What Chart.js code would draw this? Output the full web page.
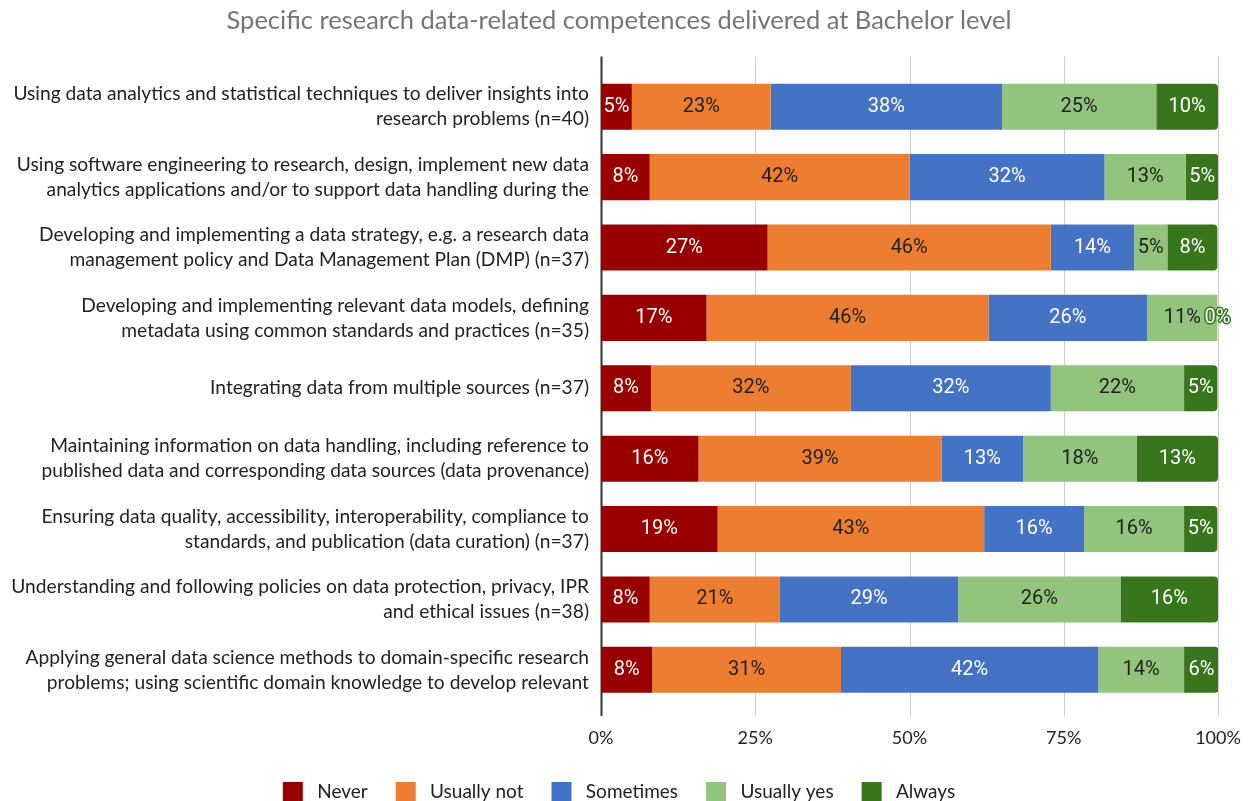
<!DOCTYPE html>
<html>
<head>
<meta charset="utf-8">
<script src="https://cdn.jsdelivr.net/npm/chart.js@4.4.1/dist/chart.umd.min.js"></script>
<style>
  html, body { margin: 0; padding: 0; background: #fff; }
  #wrap { width: 1248px; height: 801px; position: relative; }
</style>
</head>
<body>
<div id="wrap"><canvas id="competenceChart"></canvas></div>
<script>
// Data (share of respondents, %)
const categories = [
  ['Using data analytics and statistical techniques to deliver insights into', 'research problems (n=40)'],
  ['Using software engineering to research, design, implement new data', 'analytics applications and/or to support data handling during the'],
  ['Developing and implementing a data strategy, e.g. a research data', 'management policy and Data Management Plan (DMP) (n=37)'],
  ['Developing and implementing relevant data models, defining', 'metadata using common standards and practices (n=35)'],
  'Integrating data from multiple sources (n=37)',
  ['Maintaining information on data handling, including reference to', 'published data and corresponding data sources (data provenance)'],
  ['Ensuring data quality, accessibility, interoperability, compliance to', 'standards, and publication (data curation) (n=37)'],
  ['Understanding and following policies on data protection, privacy, IPR', 'and ethical issues (n=38)'],
  ['Applying general data science methods to domain-specific research', 'problems; using scientific domain knowledge to develop relevant']
];
const seriesNames = ['Never', 'Usually not', 'Sometimes', 'Usually yes', 'Always'];
const never      = [5,    7.9,  27.0, 17.1, 8.1,  15.8, 18.9, 7.9,  8.3];
const usuallyNot = [22.5, 42.1, 45.9, 45.7, 32.4, 39.4, 43.2, 21.1, 30.6];
const sometimes  = [37.5, 31.6, 13.5, 25.7, 32.4, 13.2, 16.2, 28.9, 41.7];
const usuallyYes = [25,   13.2, 5.4,  11.4, 21.6, 18.4, 16.2, 26.3, 13.9];
const always     = [10,   5.3,  8.1,  0,    5.4,  13.2, 5.4,  15.8, 5.6];
const xTicks = [0, 25, 50, 75, 100];

const colors = ['#990000', '#ed7d31', '#4472c4', '#93c47d', '#38761d'];
const labelColors = ['#ffffff', '#222222', '#ffffff', '#222222', '#ffffff'];
const values = [never, usuallyNot, sometimes, usuallyYes, always];

// vertical grid lines that run a little past the plot area, like the original
const gridPlugin = {
  id: 'gridLines',
  beforeDatasetsDraw(chart) {
    const { ctx, chartArea } = chart;
    const x = chart.scales.x;
    ctx.save();
    xTicks.forEach(t => {
      const px = Math.round(x.getPixelForValue(t)) + 0.5;
      ctx.beginPath();
      ctx.strokeStyle = t === 0 ? '#333333' : '#cccccc';
      ctx.lineWidth = t === 0 ? 2 : 1;
      ctx.moveTo(px, chartArea.top - 15);
      ctx.lineTo(px, chartArea.bottom + 11);
      ctx.stroke();
    });
    ctx.restore();
  }
};

// percentage labels inside each segment
const valueLabels = {
  id: 'valueLabels',
  afterDatasetsDraw(chart) {
    const { ctx } = chart;
    ctx.save();
    ctx.font = '20px Roboto';
    ctx.textAlign = 'center';
    ctx.textBaseline = 'middle';
    chart.data.datasets.forEach((ds, i) => {
      const meta = chart.getDatasetMeta(i);
      meta.data.forEach((bar, j) => {
        const v = ds.data[j];
        const txt = Math.round(v) + '%';
        const cx = (bar.x + bar.base) / 2;
        const w = Math.abs(bar.x - bar.base);
        if (ctx.measureText(txt).width + 4 > w) {
          ctx.strokeStyle = colors[i];
          ctx.lineWidth = 3;
          ctx.lineJoin = 'round';
          ctx.strokeText(txt, cx, bar.y);
        }
        ctx.fillStyle = labelColors[i];
        ctx.fillText(txt, cx, bar.y);
      });
    });
    ctx.restore();
  }
};

const ctx = document.getElementById('competenceChart').getContext('2d');
const competenceChart = new Chart(ctx, {
  type: 'bar',
  data: {
    labels: categories,
    datasets: seriesNames.map((name, i) => ({
      label: name,
      data: values[i],
      backgroundColor: colors[i],
      borderWidth: 0,
      borderSkipped: false,
      borderRadius: i === 4 ? { topLeft: 0, bottomLeft: 0, topRight: 4, bottomRight: 4 } : 0,
      categoryPercentage: 1,
      barPercentage: 0.655
    }))
  },
  options: {
    indexAxis: 'y',
    responsive: true,
    maintainAspectRatio: false,
    animation: false,
    layout: { padding: { left: 0, right: 10, top: 0, bottom: -10 } },
    scales: {
      x: {
        stacked: true,
        min: 0,
        max: 100,
        afterBuildTicks(scale) { scale.ticks = xTicks.map(v => ({ value: v })); },
        afterFit(scale) {
          scale.height = 49;
          scale.paddingLeft = 0;
          scale.paddingRight = 30;
        },
        grid: { display: false, drawTicks: false },
        border: { display: false },
        ticks: {
          padding: 22,
          color: '#222',
          font: { family: 'Lato', size: 18 },
          callback: v => v + '%'
        }
      },
      y: {
        stacked: true,
        afterFit(scale) { scale.width = 601; },
        grid: { display: false, drawTicks: false },
        border: { display: false },
        ticks: {
          padding: 12,
          color: '#222',
          font: { family: 'Lato', size: 19.2, lineHeight: '25px' }
        }
      }
    },
    plugins: {
      title: {
        display: true,
        text: 'Specific research data-related competences delivered at Bachelor level',
        color: '#757575',
        font: { family: 'Lato', size: 25.5, weight: 'normal' },
        padding: { top: 5, bottom: 36 }
      },
      legend: {
        position: 'bottom',
        labels: {
          boxWidth: 20,
          boxHeight: 19,
          padding: 28,
          color: '#222',
          font: { family: 'Lato', size: 19 },
          generateLabels(chart) {
            return Chart.defaults.plugins.legend.labels.generateLabels(chart).map(item => {
              item.text = ' ' + item.text;
              return item;
            });
          }
        }
      },
      tooltip: { enabled: false }
    }
  },
  plugins: [gridPlugin, valueLabels]
});
</script>
</body>
</html>
